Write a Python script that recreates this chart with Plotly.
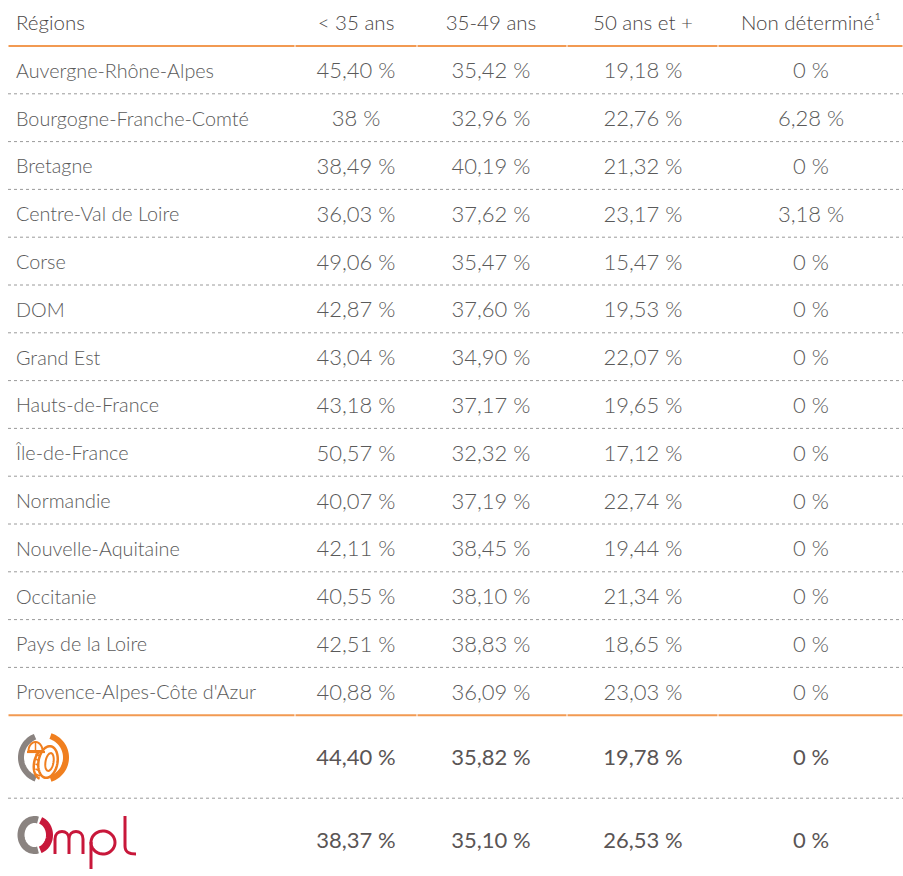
import numpy as np
import plotly.graph_objects as go

# ---------------- data ----------------
regions = ["Auvergne-Rhône-Alpes", "Bourgogne-Franche-Comté", "Bretagne", "Centre-Val de Loire",
           "Corse", "DOM", "Grand Est", "Hauts-de-France", "Île-de-France", "Normandie",
           "Nouvelle-Aquitaine", "Occitanie", "Pays de la Loire", "Provence-Alpes-Côte d'Azur"]
headers = ["Régions", "< 35 ans", "35-49 ans", "50 ans et +", "Non déterminé¹"]
under_35 = [45.40, 38, 38.49, 36.03, 49.06, 42.87, 43.04, 43.18, 50.57, 40.07, 42.11, 40.55, 42.51, 40.88]
age_35_49 = [35.42, 32.96, 40.19, 37.62, 35.47, 37.60, 34.90, 37.17, 32.32, 37.19, 38.45, 38.10, 38.83, 36.09]
age_50_plus = [19.18, 22.76, 21.32, 23.17, 15.47, 19.53, 22.07, 19.65, 17.12, 22.74, 19.44, 21.34, 18.65, 23.03]
non_determine = [0, 6.28, 0, 3.18, 0, 0, 0, 0, 0, 0, 0, 0, 0, 0]
branche_total = [44.40, 35.82, 19.78, 0]
ompl_total = [38.37, 35.10, 26.53, 0]

# ---------------- layout constants ----------------
PAGE_W, PAGE_H = 903, 876
FONT = "Lato"
TXT = "#5a5a5a"
HEAD = "#4a4646"
DARK = "#5a5555"
ORANGE = "#F29A52"
col_x = [356, 491, 643, 811]
col_bounds = [8, 295, 417, 567, 718, 903]
header_h = 46
row_h = 47.8
big_h = 83


def fmt(v):
    if abs(v - round(v)) < 1e-9:
        return f"{int(round(v))} %"
    return f"{v:.2f}".replace(".", ",") + " %"


row_y = [header_h + (i + 0.5) * row_h + 3 for i in range(len(regions))]
body_end = header_h + len(regions) * row_h
sum_y = [body_end + big_h / 2 + 3, body_end + big_h * 1.5 + 3]
head_y = 25

fig = go.Figure()

# header
fig.add_trace(go.Scatter(x=[16], y=[head_y], mode="text", text=[headers[0]], textposition="middle right",
                         textfont=dict(family=FONT, size=20.5, color=HEAD, weight=300),
                         hoverinfo="skip", showlegend=False, cliponaxis=False))
fig.add_trace(go.Scatter(x=col_x, y=[head_y] * 4, mode="text", text=headers[1:], textposition="middle center",
                         textfont=dict(family=FONT, size=20.5, color=HEAD, weight=300),
                         hoverinfo="skip", showlegend=False, cliponaxis=False))

# region names
fig.add_trace(go.Scatter(x=[16] * len(regions), y=row_y, mode="text", text=regions,
                         textposition="middle right",
                         textfont=dict(family=FONT, size=19.8, color=TXT, weight=300),
                         hoverinfo="skip", showlegend=False, cliponaxis=False))

# values
for cx, series in zip(col_x, [under_35, age_35_49, age_50_plus, non_determine]):
    fig.add_trace(go.Scatter(x=[cx] * len(series), y=row_y, mode="text",
                             text=[fmt(v) for v in series], textposition="middle center",
                             textfont=dict(family=FONT, size=22, color=TXT, weight=300),
                             hoverinfo="skip", showlegend=False, cliponaxis=False))

# summary rows
for yy, series in zip(sum_y, [branche_total, ompl_total]):
    fig.add_trace(go.Scatter(x=col_x, y=[yy] * 4, mode="text",
                             text=[fmt(v) for v in series], textposition="middle center",
                             textfont=dict(family=FONT, size=22, color=DARK, weight=400),
                             hoverinfo="skip", showlegend=False, cliponaxis=False))

shapes = []
# orange rules (with tiny gaps at column boundaries)
for yy in [header_h, body_end]:
    for a, b in zip(col_bounds[:-1], col_bounds[1:]):
        shapes.append(dict(type="line", x0=a + 0.5, x1=b - 0.5, y0=yy, y1=yy,
                           line=dict(color=ORANGE, width=2)))
# dotted separators
dotted_y = [header_h + k * row_h for k in range(1, len(regions))] + [body_end + big_h]
for yy in dotted_y:
    shapes.append(dict(type="line", x0=8, x1=903, y0=yy, y1=yy,
                       line=dict(color="#9a9a9a", width=1, dash="dot")))


def arc_path(cx, cy, rx, ry, a0, a1, n=48, rot=0.0):
    t = np.radians(np.linspace(a0, a1, n))
    px = rx * np.cos(t)
    py = ry * np.sin(t)
    r = np.radians(rot)
    xs = cx + px * np.cos(r) - py * np.sin(r)
    ys = cy - (px * np.sin(r) + py * np.cos(r))
    return "M " + " L ".join(f"{x:.2f},{y:.2f}" for x, y in zip(xs, ys))


# logo 1 (branche)
OR2 = "#F07F1F"
lc = (43.5, 757.5)
shapes.append(dict(type="path", path=arc_path(lc[0], lc[1], 22.5, 22.5, 112, 250),
                   line=dict(color="#8a8380", width=6)))
shapes.append(dict(type="path", path=arc_path(lc[0], lc[1], 22.5, 22.5, -72, 72),
                   line=dict(color=OR2, width=6)))
# tire (behind)
shapes.append(dict(type="path", path=arc_path(43, 764, 9, 15, 95, 265, rot=-10),
                   line=dict(color=OR2, width=2.5)))
for k in range(5):
    yk = 754 + k * 5
    shapes.append(dict(type="line", x0=35.5, x1=40, y0=yk, y1=yk + 2,
                       line=dict(color=OR2, width=1.5)))
shapes.append(dict(type="path", path=arc_path(48, 762, 9.5, 16, 0, 360, rot=-10) + " Z",
                   line=dict(color=OR2, width=2.5), fillcolor="white"))
shapes.append(dict(type="path", path=arc_path(49.5, 762, 4, 9, 0, 360, rot=-10) + " Z",
                   line=dict(color=OR2, width=2)))
# helmet (front)
shapes.append(dict(type="path", path=arc_path(35.5, 751, 7, 9, 0, 180) + " Z",
                   line=dict(color=OR2, width=2), fillcolor="white"))
shapes.append(dict(type="line", x0=35.5, x1=35.5, y0=742, y1=751,
                   line=dict(color=OR2, width=1.5)))
shapes.append(dict(type="line", x0=27, x1=45, y0=752, y1=752,
                   line=dict(color=OR2, width=2.2)))

# logo 2 (Ompl)
oc = (34.5, 835)
RED = "#C8173A"
shapes.append(dict(type="path", path=arc_path(oc[0], oc[1], 13.5, 15.5, 75, 285),
                   line=dict(color="#8a8380", width=7)))
shapes.append(dict(type="path", path=arc_path(oc[0] + 1.5, oc[1], 13.5, 15.5, -72, 70),
                   line=dict(color=RED, width=7)))
base = oc[1] + 19
top_m = base - 23
# m
shapes.append(dict(type="path",
                   path=(f"M 55,{base} L 55,{top_m + 8} C 55,{top_m - 2} 69,{top_m - 2} 69,{top_m + 8} L 69,{base} "
                         f"M 69,{top_m + 8} C 69,{top_m - 2} 83,{top_m - 2} 83,{top_m + 8} L 83,{base}"),
                   line=dict(color=RED, width=3)))
# p
shapes.append(dict(type="path", path=f"M 91,{base + 15} L 91,{top_m + 11}",
                   line=dict(color=RED, width=3)))
shapes.append(dict(type="path", path=arc_path(103, top_m + 11.5, 12, 11.5, 0, 360),
                   line=dict(color=RED, width=3)))
# l
shapes.append(dict(type="path", path=f"M 125,{base - 38} L 125,{base - 8} C 125,{base - 1} 130,{base} 136,{base}",
                   line=dict(color=RED, width=3)))

fig.update_layout(
    width=PAGE_W, height=PAGE_H, margin=dict(l=0, r=0, t=0, b=0),
    paper_bgcolor="white", plot_bgcolor="white",
    xaxis=dict(range=[0, PAGE_W], visible=False, fixedrange=True),
    yaxis=dict(range=[PAGE_H, 0], visible=False, fixedrange=True),
    shapes=shapes, showlegend=False,
)
# remove the default page margin so the figure fills the window exactly
fig.write_html("out.html",
               config={"displayModeBar": False},
               post_script="document.body.style.margin='0px';document.body.style.overflow='hidden';"
                           "document.documentElement.style.overflow='hidden';")
